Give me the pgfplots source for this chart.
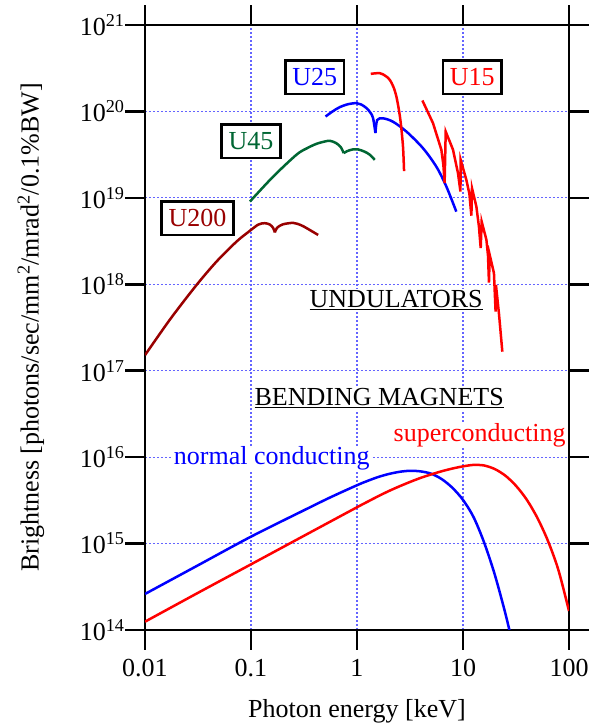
\documentclass[border=0pt]{standalone}
\usepackage{fontspec}
\setmainfont{Liberation Serif}
\usepackage{pgfplots}
\pgfplotsset{compat=1.18}
\definecolor{gridblue}{RGB}{100,100,255}
\definecolor{udarkred}{RGB}{153,0,0}
\definecolor{ugreen}{RGB}{0,102,51}
\begin{document}
\begin{tikzpicture}[font=\fontsize{26}{31}\selectfont]
\begin{axis}[
  name=ax, at={(0,0)}, anchor=south west,
  scale only axis, width=424pt, height=605pt,
  xmode=log, ymode=log,
  xmin=0.01, xmax=100, ymin=1e14, ymax=1e21,
  xtick={0.01,0.1,1,10,100}, xticklabels={0.01,0.1,1,10,100},
  ytick={1e14,1e15,1e16,1e17,1e18,1e19,1e20,1e21},
  yticklabels={10\textsuperscript{14},10\textsuperscript{15},10\textsuperscript{16},10\textsuperscript{17},10\textsuperscript{18},10\textsuperscript{19},10\textsuperscript{20},10\textsuperscript{21}},
  xticklabel style={yshift=-6pt},
  yticklabel style={xshift=3pt},
  tick align=outside, major tick length=20pt, minor tick length=0pt,
  tick style={black, line width=2.5pt},
  axis line style={line width=2.5pt},
  grid=major,
  major grid style={gridblue, line width=1.2pt, dash pattern=on 2pt off 2pt},
  xlabel={Photon energy [keV]},
  ylabel={Brightness [photons/sec/mm\textsuperscript{2}/mrad\textsuperscript{2}/0.1\%BW]},
  xlabel style={at={(axis description cs:0.5,-0.134)}, anchor=center},
  ylabel style={at={(axis description cs:-0.269,0.5)}, anchor=center},
  every axis plot/.append style={line width=2.5pt},
]
% bending magnet, normal conducting
\addplot[blue, smooth, tension=0.5] coordinates {
(0.01,2.61e14) (0.0316,5.60e14) (0.1,1.202e15) (0.316,2.427e15) (0.562,3.43e15)
(1,4.73e15) (1.259,5.31e15) (1.585,5.89e15) (1.995,6.38e15) (2.512,6.76e15)
(3.162,6.95e15) (3.981,6.84e15) (5.012,6.43e15) (6.310,5.56e15) (7.943,4.42e15)
(10,3.20e15) (12.59,2.02e15) (15.85,1.023e15) (19.95,4.37e14) (25.12,1.549e14)
(28.84,7.59e13)};
% bending magnet, superconducting
\addplot[red, smooth, tension=0.5] coordinates {
(0.01,1.247e14) (0.0316,2.69e14) (0.1,5.75e14) (0.316,1.230e15) (1,2.63e15)
(1.259,3.05e15) (1.585,3.53e15) (1.995,4.05e15) (2.512,4.59e15) (3.162,5.16e15)
(3.981,5.75e15) (5.012,6.31e15) (6.310,6.87e15) (7.943,7.38e15) (10,7.82e15)
(12.59,8.13e15) (15.85,8.00e15) (19.95,7.28e15) (25.12,6.10e15) (31.62,4.66e15)
(39.81,3.24e15) (50.12,2.00e15) (63.10,1.084e15) (79.43,4.95e14) (100,1.66e14)};
% U200
\addplot[udarkred, smooth, tension=0.5] coordinates {
(0.01,1.514e17) (0.01738,3.98e17) (0.0307,9.84e17) (0.0479,1.862e18) (0.0731,3.12e18)
(0.0933,3.98e18) (0.117,4.90e18) (0.135,5.09e18) (0.151,4.90e18) (0.162,4.47e18)
(0.168,3.98e18)};
\addplot[udarkred, smooth, tension=0.5] coordinates {
(0.168,3.98e18) (0.176,4.50e18) (0.1995,4.93e18) (0.25,5.13e18) (0.295,4.84e18)
(0.334,4.47e18) (0.43,3.72e18)};
% U45
\addplot[ugreen, smooth, tension=0.5] coordinates {
(0.0977,9.06e18) (0.162,1.762e19) (0.269,3.16e19) (0.339,3.76e19) (0.415,4.22e19)
(0.490,4.47e19) (0.555,4.57e19) (0.631,4.32e19) (0.70,3.89e19) (0.75,3.29e19)};
\addplot[ugreen, smooth, tension=0.5] coordinates {
(0.75,3.29e19) (0.807,3.47e19) (0.912,3.63e19) (1.026,3.63e19) (1.175,3.43e19)
(1.318,3.16e19) (1.472,2.75e19)};
% U25
\addplot[blue, smooth, tension=0.5] coordinates {
(0.505,8.73e19) (0.589,1.0e20) (0.689,1.122e20) (0.832,1.216e20) (0.989,1.247e20)
(1.096,1.202e20) (1.230,1.091e20) (1.349,9.55e19) (1.419,8.32e19) (1.493,5.62e19)};
\addplot[blue, smooth, tension=0.5] coordinates {
(1.493,5.62e19) (1.549,7.94e19) (1.762,8.32e19) (2.188,7.59e19) (2.924,5.85e19)
(4.188,3.76e19) (5.61,2.29e19) (6.97,1.35e19) (8.65,6.92e18)};
% U15, first harmonic
\addplot[red, smooth, tension=0.5] coordinates {
(1.349,2.72e20) (1.641,2.77e20) (1.862,2.57e20) (2.037,2.32e20) (2.213,1.905e20)
(2.355,1.479e20) (2.483,1.047e20) (2.588,7.33e19) (2.716,3.93e19) (2.780,2.04e19)};
% U15, higher harmonics
\addplot[red] coordinates {
(4.14,1.337e20) (5.21,7.33e19) (6.25,3.60e19) (6.53,2.40e19) (6.71,1.479e19)
(6.87,5.85e19) (8.05,3.60e19) (8.97,1.93e19) (9.46,1.183e19)
(9.51,2.75e19) (10.76,1.61e19) (11.48,1.12e19) (12.0,6.22e18)
(12.16,1.294e19) (13.37,7.93e18) (14.13,4.68e18) (14.69,2.62e18)
(15.0,5.32e18) (16.63,3.27e18) (17.22,2.14e18) (17.58,1.047e18)
(17.86,2.19e18) (19.59,1.346e18) (20.3,4.83e17)
(20.46,9.84e17) (21.88,4.47e17) (23.5,1.66e17)};
% labels
\tikzset{ubox/.style={draw=black, line width=2.5pt, fill=white, inner xsep=7pt, inner ysep=8pt}}
\node[ubox, text=blue] at (axis cs:0.40,2.48e20) {U25};
\node[ubox, text=red] at (axis cs:12.2,2.48e20) {U15};
\node[ubox, text=ugreen] at (axis cs:0.1,4.5e19) {U45};
\node[ubox, text=udarkred] at (axis cs:0.0313,5.8e18) {U200};
\node[fill=white, inner sep=2pt, anchor=base] at (axis cs:2.34,5.33e17) {\underline{UNDULATORS}};
\node[fill=white, inner sep=2pt, anchor=base] at (axis cs:1.62,3.92e16) {\underline{BENDING MAGNETS}};
\node[fill=white, inner sep=1pt, text=red, anchor=base] at (axis cs:14.35,1.51e16) {superconducting};
\node[fill=white, inner sep=1pt, text=blue, anchor=base] at (axis cs:0.157,8.13e15) {normal conducting};
\end{axis}
\pgfresetboundingbox
\path[use as bounding box] ([xshift=-145pt,yshift=-97pt]ax.south west) rectangle ([xshift=21.5pt,yshift=25pt]ax.north east);
\end{tikzpicture}
\end{document}
